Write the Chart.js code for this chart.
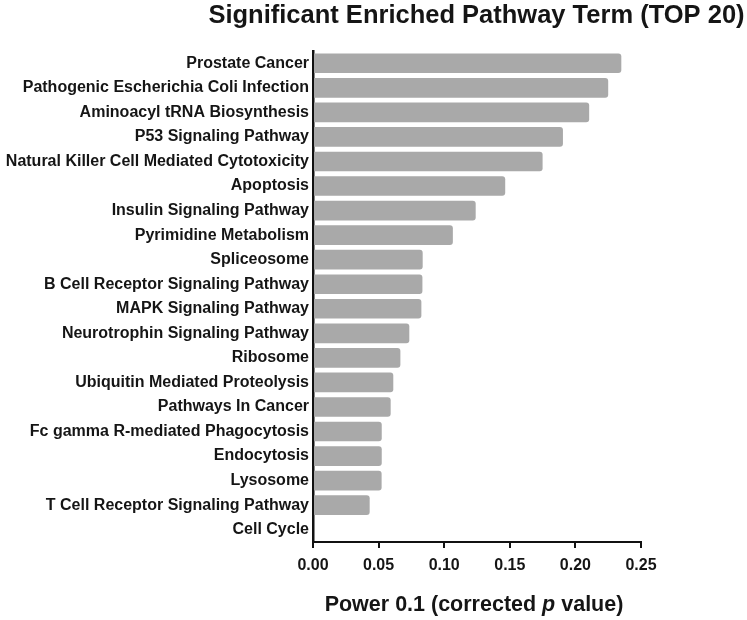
<!DOCTYPE html>
<html>
<head>
<meta charset="utf-8">
<script src="https://cdn.jsdelivr.net/npm/chart.js@4.4.0/dist/chart.umd.min.js"></script>
<style>
  html, body { margin: 0; padding: 0; background: #fff; }
  #wrap { width: 747px; height: 620px; }
</style>
</head>
<body>
<div id="wrap"><canvas id="barChart" width="747" height="620"></canvas></div>
<script>
const pathways = [
    'Prostate Cancer',
    'Pathogenic Escherichia Coli Infection',
    'Aminoacyl tRNA Biosynthesis',
    'P53 Signaling Pathway',
    'Natural Killer Cell Mediated Cytotoxicity',
    'Apoptosis',
    'Insulin Signaling Pathway',
    'Pyrimidine Metabolism',
    'Spliceosome',
    'B Cell Receptor Signaling Pathway',
    'MAPK Signaling Pathway',
    'Neurotrophin Signaling Pathway',
    'Ribosome',
    'Ubiquitin Mediated Proteolysis',
    'Pathways In Cancer',
    'Fc gamma R-mediated Phagocytosis',
    'Endocytosis',
    'Lysosome',
    'T Cell Receptor Signaling Pathway',
    'Cell Cycle'
];
const powerValues = [
    0.235, 0.225, 0.2105, 0.1905, 0.175, 0.1465, 0.124, 0.1066, 0.0836, 0.0834,
    0.0826, 0.0734, 0.0666, 0.0612, 0.0592, 0.0524, 0.0524, 0.0523, 0.0432, 0
];
const xTicks = [0, 0.05, 0.10, 0.15, 0.20, 0.25];

const chartTitle = 'Significant Enriched Pathway Term (TOP 20)';
const xTitleParts = [
    {text: 'Power 0.1 (corrected ', italic: false},
    {text: 'p', italic: true},
    {text: ' value)', italic: false}
];

const FONT = "'Liberation Sans', Arial, sans-serif";
const INK = '#151515';

// title and axis title (with italic p) drawn on top
const textPlugin = {
    id: 'textPlugin',
    afterDraw(chart) {
        const ctx = chart.ctx;
        const area = chart.chartArea;
        ctx.save();
        ctx.fillStyle = INK;
        ctx.textBaseline = 'alphabetic';

        ctx.font = 'bold 25.5px ' + FONT;
        ctx.textAlign = 'center';
        ctx.fillText(chartTitle, (area.left + area.right) / 2 - 0.5, 23);

        const fonts = xTitleParts.map(p => (p.italic ? 'italic ' : '') + 'bold 21.5px ' + FONT);
        let total = 0;
        xTitleParts.forEach((p, i) => {
            ctx.font = fonts[i];
            total += ctx.measureText(p.text).width;
        });
        let x = (area.left + area.right) / 2 - total / 2 - 3;
        ctx.textAlign = 'left';
        xTitleParts.forEach((p, i) => {
            ctx.font = fonts[i];
            ctx.fillText(p.text, x, 611);
            x += ctx.measureText(p.text).width;
        });
        ctx.restore();
    }
};

const ctx = document.getElementById('barChart').getContext('2d');
const barChart = new Chart(ctx, {
    type: 'bar',
    data: {
        labels: pathways,
        datasets: [{
            data: powerValues,
            backgroundColor: '#a9a9a9',
            borderRadius: 3,
            borderSkipped: 'start',
            barPercentage: 0.8,
            categoryPercentage: 1.0
        }]
    },
    options: {
        indexAxis: 'y',
        responsive: false,
        animation: false,
        layout: {
            padding: {top: 51, right: 106, bottom: 0, left: 0}
        },
        plugins: {
            legend: {display: false},
            title: {display: false},
            tooltip: {enabled: false}
        },
        scales: {
            x: {
                min: 0,
                max: 0.25,
                z: 1,
                afterBuildTicks: function (scale) {
                    scale.ticks = xTicks.map(v => ({value: v}));
                },
                afterFit: function (scale) {
                    scale.height = 78;
                },
                grid: {
                    display: true,
                    drawOnChartArea: false,
                    drawTicks: true,
                    tickLength: 6,
                    color: '#111',
                    lineWidth: 2
                },
                border: {display: true, color: '#111', width: 2},
                ticks: {
                    color: INK,
                    padding: 8,
                    maxRotation: 0,
                    font: {family: FONT, size: 16, weight: 'bold'},
                    callback: function (value) {
                        return Number(value).toFixed(2);
                    }
                }
            },
            y: {
                z: 1,
                afterFit: function (scale) {
                    scale.width = 313;
                },
                grid: {display: false, drawTicks: false},
                border: {display: true, color: '#111', width: 2.5},
                ticks: {
                    color: INK,
                    padding: 4,
                    autoSkip: false,
                    font: {family: FONT, size: 16, weight: 'bold'}
                }
            }
        }
    },
    plugins: [textPlugin]
});
</script>
</body>
</html>
